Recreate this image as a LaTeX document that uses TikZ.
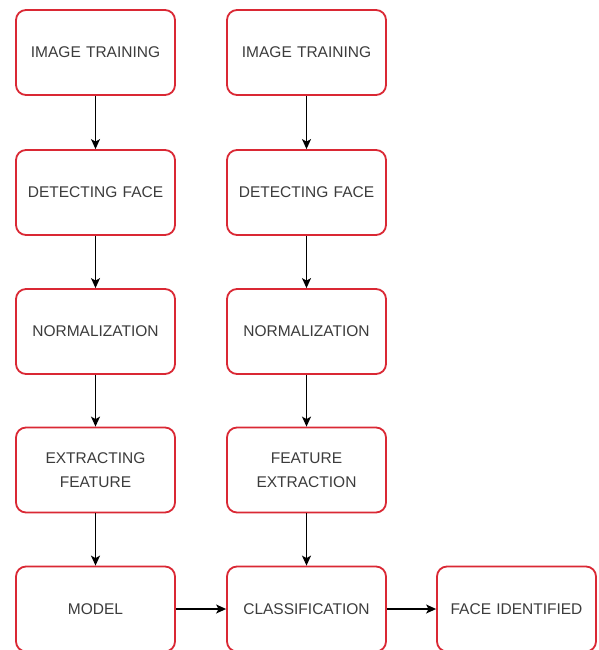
\documentclass[tikz,border=0pt]{standalone}
\usepackage{fontspec}
\setmainfont{Liberation Sans}
\usetikzlibrary{arrows.meta}
\definecolor{boxred}{RGB}{218,40,52}
\definecolor{txt}{RGB}{60,60,60}
\tikzset{
  stepbox/.style={draw=boxred, line width=1.8pt, rounded corners=10pt, fill=white,
    minimum width=159pt, minimum height=85pt, text width=150pt, align=center,
    font=\fontsize{15.5}{24}\selectfont, text=txt, inner sep=0pt},
  flow/.style={draw=black, line width=1.3pt, -{Stealth[length=10pt,width=9pt,inset=2.5pt]}}
}
\begin{document}
\begin{tikzpicture}[x=1pt,y=-1pt]
\useasboundingbox (0,0) rectangle (598,650);
\node[stepbox] (a1) at (95.5,52.5) {IMAGE TRAINING};
\node[stepbox] (a2) at (95.5,192.5) {DETECTING FACE};
\node[stepbox] (a3) at (95.5,331.5) {NORMALIZATION};
\node[stepbox] (a4) at (95.5,470) {EXTRACTING\\FEATURE};
\node[stepbox] (a5) at (95.5,609) {MODEL};
\node[stepbox] (b1) at (306.5,52.5) {IMAGE TRAINING};
\node[stepbox] (b2) at (306.5,192.5) {DETECTING FACE};
\node[stepbox] (b3) at (306.5,331.5) {NORMALIZATION};
\node[stepbox] (b4) at (306.5,470) {FEATURE\\EXTRACTION};
\node[stepbox] (b5) at (306.5,609) {CLASSIFICATION};
\node[stepbox] (c5) at (516.5,609) {FACE IDENTIFIED};
\draw[flow] (a1) -- (a2);
\draw[flow] (a2) -- (a3);
\draw[flow] (a3) -- (a4);
\draw[flow] (a4) -- (a5);
\draw[flow] (b1) -- (b2);
\draw[flow] (b2) -- (b3);
\draw[flow] (b3) -- (b4);
\draw[flow] (b4) -- (b5);
\draw[flow] (a5) -- (b5);
\draw[flow] (b5) -- (c5);
\end{tikzpicture}
\end{document}
